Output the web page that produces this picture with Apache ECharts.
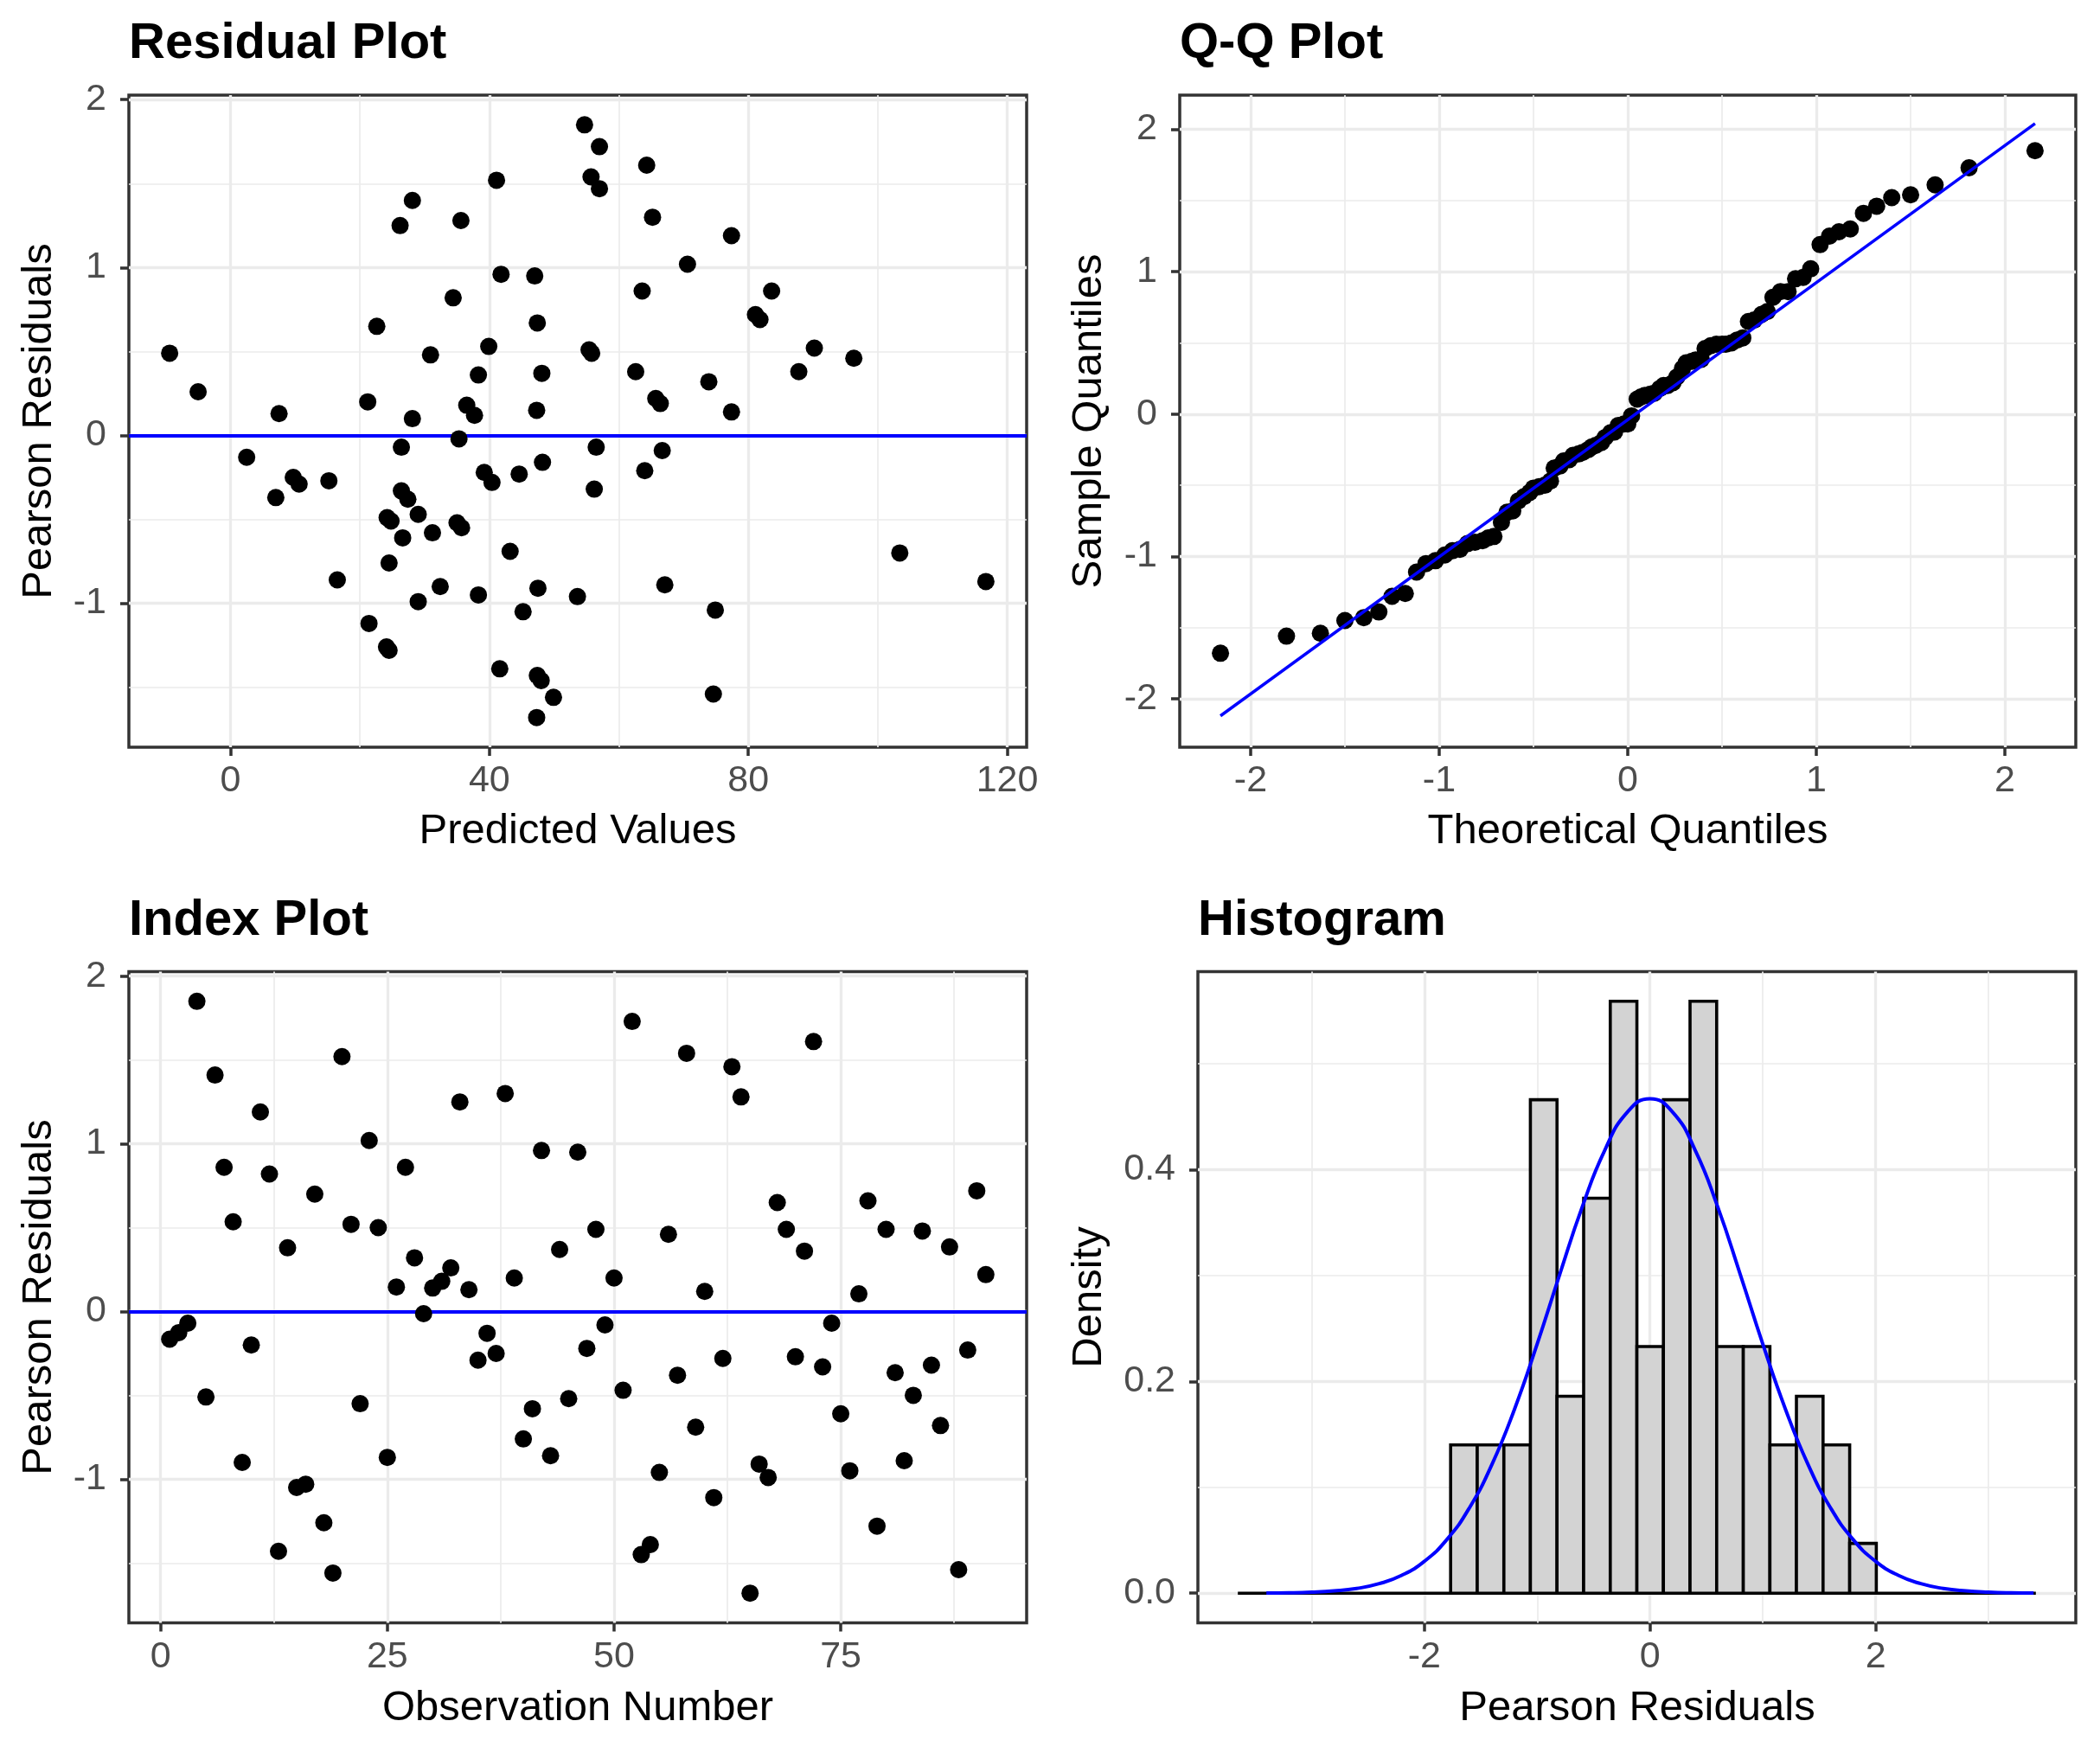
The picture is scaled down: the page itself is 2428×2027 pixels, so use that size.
<!DOCTYPE html>
<html>
<head>
<meta charset="utf-8">
<title>Residual diagnostics</title>
<script src="https://cdn.jsdelivr.net/npm/echarts@6.0.0/dist/echarts.min.js"></script>
<style>
  html, body { margin: 0; padding: 0; background: #fff; }
  #chart { width: 2428px; height: 2027px; }
</style>
</head>
<body>
<div id="chart"></div>
<script>
// ---- data ----

// residual plot: predicted value / pearson residual pairs
const predicted = [-9.4, -5.0, 7.5, 2.5, 9.7, 10.6, 7.0, 15.2, 16.5, 22.6,
  21.2, 28.1, 26.2, 35.6, 28.1, 30.9, 26.4, 26.4, 27.4, 24.8,
  24.2, 29.0, 26.6, 31.2, 24.5, 35.0, 35.7, 29.0, 32.4, 21.4,
  24.1, 24.5, 41.1, 34.4, 41.8, 47.0, 47.4, 39.9, 38.3, 48.1,
  36.5, 37.7, 47.3, 35.3, 39.2, 40.4, 44.6, 48.2, 43.2, 38.3,
  47.5, 45.2, 53.6, 41.6, 47.4, 48.0, 49.9, 47.3, 54.7, 57.0,
  55.7, 57.0, 55.4, 55.8, 56.5, 56.2, 64.3, 65.2, 77.4, 70.6,
  63.6, 83.6, 81.1, 81.8, 90.2, 96.3, 62.6, 87.8, 73.9, 65.7,
  66.4, 77.4, 66.7, 64.0, 103.4, 116.7, 67.1, 74.9, 74.6]
const residuals = [0.49, 0.26, 0.13, -0.13, -0.25, -0.29, -0.37, -0.27, -0.86, 0.65,
  0.20, 1.40, 1.25, 1.28, 0.10, 0.48, -0.07, -0.33, -0.38, -0.51,
  -0.49, -0.47, -0.61, -0.58, -0.76, -0.52, -0.55, -0.99, -0.90, -1.12,
  -1.26, -1.28, 1.52, 0.82, 0.96, 0.95, 0.67, 0.53, 0.36, 0.37,
  0.18, 0.12, 0.15, -0.02, -0.22, -0.28, -0.23, -0.16, -0.69, -0.95,
  -0.91, -1.05, -0.96, -1.39, -1.43, -1.46, -1.56, -1.68, 1.85, 1.72,
  1.54, 1.47, 0.51, 0.49, -0.07, -0.32, 1.61, 1.30, 1.19, 1.02,
  0.86, 0.86, 0.72, 0.69, 0.52, 0.46, 0.38, 0.38, 0.32, 0.22,
  0.19, 0.14, -0.09, -0.21, -0.70, -0.87, -0.89, -1.04, -1.54]

// index plot: residual by observation number (1..91)
const indexResid = [-0.165, -0.126, -0.07, 1.85, -0.51, 1.41, 0.86, 0.535, -0.90, -0.20,
  1.19, 0.82, -1.43, 0.38, -1.05, -1.03, 0.70, -1.26, -1.56, 1.52,
  0.52, -0.55, 1.02, 0.50, -0.87, 0.146, 0.86, 0.32, -0.013, 0.14,
  0.18, 0.26, 1.25, 0.13, -0.29, -0.13, -0.25, 1.30, 0.20, -0.76,
  -0.58, 0.96, -0.86, 0.37, -0.52, 0.95, -0.22, 0.49, -0.08, 0.20,
  -0.47, 1.73, -1.45, -1.39, -0.96, 0.46, -0.38, 1.54, -0.69, 0.12,
  -1.11, -0.28, 1.46, 1.28, -1.68, -0.91, -0.99, 0.65, 0.49, -0.27,
  0.36, 1.61, -0.33, -0.07, -0.61, -0.95, 0.105, 0.66, -1.28, 0.49,
  -0.365, -0.89, -0.50, 0.48, -0.32, -0.68, 0.385, -1.54, -0.23, 0.72,
  0.22]

// q-q plot: theoretical quantiles (x), sample = sorted residuals
const qqTheory = [-2.16, -1.81, -1.63, -1.50, -1.40, -1.32, -1.25, -1.18, -1.12, -1.07,
  -1.02, -0.97, -0.93, -0.89, -0.85, -0.81, -0.77, -0.74, -0.71, -0.67,
  -0.64, -0.61, -0.58, -0.55, -0.52, -0.50, -0.47, -0.44, -0.41, -0.39,
  -0.36, -0.34, -0.31, -0.29, -0.26, -0.24, -0.21, -0.19, -0.17, -0.14,
  -0.12, -0.09, -0.07, -0.05, -0.02, 0.00, 0.02, 0.05, 0.07, 0.09,
  0.12, 0.14, 0.17, 0.19, 0.21, 0.24, 0.26, 0.29, 0.31, 0.34,
  0.36, 0.39, 0.41, 0.44, 0.47, 0.50, 0.52, 0.55, 0.58, 0.61,
  0.64, 0.67, 0.71, 0.74, 0.77, 0.81, 0.85, 0.89, 0.93, 0.97,
  1.02, 1.07, 1.12, 1.18, 1.25, 1.32, 1.40, 1.50, 1.63, 1.81,
  2.16]
const qqLineX = [-2.16, 2.16]
const qqLineY = [-2.12, 2.04]

// histogram: bin edges and density per bin, plus the fitted normal curve
const histEdges = [-3.653, -3.417, -3.182, -2.946, -2.710, -2.474, -2.238, -2.003, -1.767, -1.531,
  -1.295, -1.060, -0.824, -0.588, -0.352, -0.116, 0.119, 0.355, 0.591, 0.827,
  1.063, 1.298, 1.534, 1.770, 2.006, 2.242, 2.477, 2.713, 2.949, 3.185, 3.420]
const histDensity = [0, 0, 0, 0, 0, 0, 0, 0, 0.140, 0.140,
  0.140, 0.466, 0.186, 0.373, 0.559, 0.233, 0.466, 0.559, 0.233, 0.233,
  0.140, 0.186, 0.140, 0.047, 0, 0, 0, 0, 0, 0]
const curveX = [-3.4, -3.2, -3.0, -2.8, -2.6, -2.4, -2.2, -2.0, -1.8, -1.6, -1.4, -1.2,
  -1.0, -0.8, -0.6, -0.4, -0.2, 0, 0.2, 0.4, 0.6, 0.8, 1.0, 1.2,
  1.4, 1.6, 1.8, 2.0, 2.2, 2.4, 2.6, 2.8, 3.0, 3.2, 3.4]
const curveY = [0.0002, 0.0004, 0.0010, 0.0022, 0.0045, 0.0090, 0.0169, 0.0301, 0.0507, 0.0807, 0.1218, 0.1740,
  0.2353, 0.3011, 0.3649, 0.4185, 0.4544, 0.467, 0.4544, 0.4185, 0.3649, 0.3011, 0.2353, 0.1740,
  0.1218, 0.0807, 0.0507, 0.0301, 0.0169, 0.0090, 0.0045, 0.0022, 0.0010, 0.0004, 0.0002]

// tick positions (major carry labels, minor only grid lines)
const resXMajor = [0, 40, 80, 120], resXMinor = [20, 60, 100]
const residYMajor = [-1, 0, 1, 2], residYMinor = [-1.5, -0.5, 0.5, 1.5]
const qqMajor = [-2, -1, 0, 1, 2], qqMinor = [-1.5, -0.5, 0.5, 1.5]
const idxXMajor = [0, 25, 50, 75], idxXMinor = [12.5, 37.5, 62.5, 87.5]
const histXMajor = [-2, 0, 2], histXMinor = [-3, -1, 1, 3]
const histYMajor = [0, 0.2, 0.4], histYMinor = [0.1, 0.3, 0.5]

// ---- chart ----
const FONT = '"Liberation Sans", Arial, Helvetica, sans-serif'
const chart = echarts.init(document.getElementById('chart'))

const panels = [
  { left: 149, top: 110, width: 1038, height: 754 },
  { left: 1364, top: 110, width: 1036, height: 754 },
  { left: 149, top: 1123.5, width: 1038, height: 753 },
  { left: 1385, top: 1123.5, width: 1015, height: 753 }
]

function axis(dim, gridIndex, min, max, ticks, fmt) {
  return {
    type: 'value', gridIndex, min, max,
    axisLine: { show: false, onZero: false },
    axisTick: { show: true, customValues: ticks, length: 10, lineStyle: { color: '#333333', width: 3.5 } },
    axisLabel: {
      customValues: ticks, margin: dim === 'x' ? 18 : 26,
      color: '#4D4D4D', fontSize: 43, fontFamily: FONT,
      formatter: fmt || (v => String(v))
    },
    splitLine: { show: false }
  }
}

// panel grid lines (and the blue zero line) as mark lines kept under the data
function gridLines(i, xMajor, xMinor, yMajor, yMinor, extra) {
  const major = { color: '#EBEBEB', width: 3.3, type: 'solid' }
  const minor = { color: '#EBEBEB', width: 1.7, type: 'solid' }
  const data = []
  xMinor.forEach(v => data.push({ xAxis: v, lineStyle: minor }))
  yMinor.forEach(v => data.push({ yAxis: v, lineStyle: minor }))
  xMajor.forEach(v => data.push({ xAxis: v, lineStyle: major }))
  yMajor.forEach(v => data.push({ yAxis: v, lineStyle: major }))
  if (extra) data.push(extra)
  return {
    type: 'line', xAxisIndex: i, yAxisIndex: i, data: [], z: 1, silent: true,
    markLine: { z: 1, silent: true, symbol: ['none', 'none'], label: { show: false }, animation: false, emphasis: { disabled: true }, data }
  }
}

const zeroLine = { yAxis: 0, lineStyle: { color: '#0000FF', width: 3.8, type: 'solid' } }
const dot = { type: 'scatter', symbolSize: 20, itemStyle: { color: '#000', opacity: 1 }, z: 3, silent: true }

const qqSample = indexResid.slice().sort((a, b) => a - b)
const obsNumber = indexResid.map((_, i) => i + 1)

function text(str, x, y, size, bold, rotate, align) {
  return {
    type: 'text', x, y, rotation: rotate ? Math.PI / 2 : 0, silent: true,
    style: {
      text: str, fill: '#000', align: align || 'center', verticalAlign: 'middle',
      font: (bold ? 'bold ' : '') + size + 'px ' + FONT
    }
  }
}

const option = {
  animation: false,
  backgroundColor: '#fff',
  grid: panels.map(p => Object.assign({ show: true, borderColor: '#333333', borderWidth: 3.5, backgroundColor: '#fff', containLabel: false, outerBoundsMode: 'none' }, p)),
  xAxis: [
    axis('x', 0, -15.7, 123.0, resXMajor),
    axis('x', 1, -2.376, 2.376, qqMajor),
    axis('x', 2, -3.5, 95.5, idxXMajor),
    axis('x', 3, -4.007, 3.774, histXMajor)
  ],
  yAxis: [
    axis('y', 0, -1.857, 2.027, residYMajor),
    axis('y', 1, -2.34, 2.24, qqMajor),
    axis('y', 2, -1.857, 2.027, residYMajor),
    axis('y', 3, -0.028, 0.587, histYMajor, v => v.toFixed(1))
  ],
  series: [
    gridLines(0, resXMajor, resXMinor, residYMajor, residYMinor, zeroLine),
    Object.assign({}, dot, { xAxisIndex: 0, yAxisIndex: 0, data: predicted.map((p, i) => [p, residuals[i]]) }),

    gridLines(1, qqMajor, qqMinor, qqMajor, qqMinor),
    Object.assign({}, dot, { xAxisIndex: 1, yAxisIndex: 1, data: qqTheory.map((q, i) => [q, qqSample[i]]) }),
    {
      type: 'line', xAxisIndex: 1, yAxisIndex: 1, z: 6, silent: true, showSymbol: false, symbol: 'none',
      data: qqLineX.map((x, i) => [x, qqLineY[i]]),
      lineStyle: { color: '#0000FF', width: 3.5, opacity: 1 }
    },

    gridLines(2, idxXMajor, idxXMinor, residYMajor, residYMinor, zeroLine),
    Object.assign({}, dot, { xAxisIndex: 2, yAxisIndex: 2, data: obsNumber.map((n, i) => [n, indexResid[i]]) }),

    gridLines(3, histXMajor, histXMinor, histYMajor, histYMinor),
    {
      // empty bins of the histogram show as a black base line
      type: 'line', xAxisIndex: 3, yAxisIndex: 3, z: 2, silent: true, showSymbol: false, symbol: 'none',
      data: [[histEdges[0], 0], [histEdges[histEdges.length - 1], 0]],
      lineStyle: { color: '#000', width: 3.6, opacity: 1 }
    },
    {
      type: 'custom', xAxisIndex: 3, yAxisIndex: 3, z: 3, silent: true,
      data: histDensity.map((d, i) => [histEdges[i], histEdges[i + 1], d]).filter(b => b[2] > 0),
      encode: { x: [0, 1], y: 2 },
      renderItem(params, api) {
        const top = api.coord([api.value(0), api.value(2)])
        const base = api.coord([api.value(1), 0])
        return {
          type: 'rect',
          shape: { x: top[0], y: top[1], width: base[0] - top[0], height: base[1] - top[1] },
          style: { fill: '#D3D3D3', stroke: '#000', lineWidth: 3.6 }
        }
      }
    },
    {
      type: 'line', xAxisIndex: 3, yAxisIndex: 3, z: 5, silent: true, showSymbol: false, symbol: 'none', smooth: true,
      data: curveX.map((x, i) => [x, curveY[i]]),
      lineStyle: { color: '#0000FF', width: 4, opacity: 1 }
    }
  ],
  graphic: [
    text('Residual Plot', 149, 51, 58, true, false, 'left'),
    text('Q-Q Plot', 1364, 51, 58, true, false, 'left'),
    text('Index Plot', 149, 1065, 58, true, false, 'left'),
    text('Histogram', 1385, 1065, 58, true, false, 'left'),
    text('Predicted Values', 668, 961, 49),
    text('Theoretical Quantiles', 1882, 961, 49),
    text('Observation Number', 668, 1975, 49),
    text('Pearson Residuals', 1893, 1975, 49),
    text('Pearson Residuals', 45, 487, 49, false, true),
    text('Sample Quantiles', 1259, 487, 49, false, true),
    text('Pearson Residuals', 45, 1500, 49, false, true),
    text('Density', 1259, 1500, 49, false, true)
  ]
}

chart.setOption(option)
</script>
</body>
</html>
